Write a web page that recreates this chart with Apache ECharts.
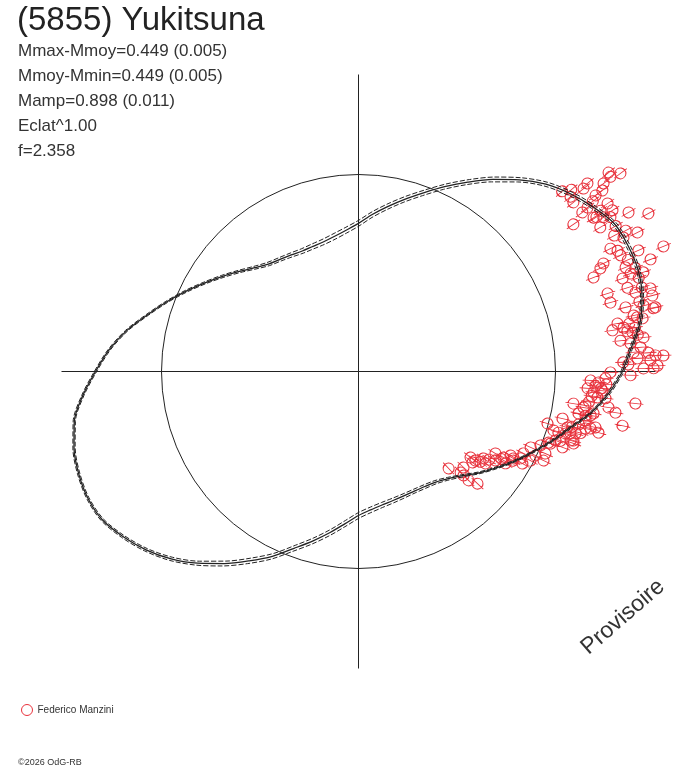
<!DOCTYPE html>
<html>
<head>
<meta charset="utf-8">
<script src="https://cdn.jsdelivr.net/npm/echarts@6/dist/echarts.min.js"></script>
<style>
  html, body { margin: 0; padding: 0; background: #fff; }
  #chart { width: 688px; height: 768px; }
</style>
</head>
<body>
<div id="chart"></div>
<script>
// model lightcurve, relative flux (1 = mean) vs rotation phase in degrees
const curvePhase = [0, 5, 10, 15, 20, 25, 30, 35, 40, 45, 50, 55, 60, 65, 70, 75, 80, 85,
  90, 95, 100, 105, 110, 115, 120, 125, 130, 135, 140, 145, 150, 155, 160, 165, 170, 175,
  180, 185, 190, 195, 200, 205, 210, 215, 220, 225, 230, 235, 240, 245, 250, 255, 260, 265,
  270, 275, 280, 285, 290, 295, 300, 305, 310, 315, 320, 325, 330, 335, 340, 345, 350, 355, 360];
const curveFlux = [1.340, 1.390, 1.452, 1.490, 1.510, 1.510, 1.500, 1.455, 1.404, 1.345, 1.270, 1.190,
  1.110, 1.035, 0.965, 0.905, 0.850, 0.800, 0.752, 0.720, 0.697, 0.682, 0.676, 0.675,
  0.683, 0.695, 0.712, 0.745, 0.790, 0.842, 0.900, 0.965, 1.035, 1.110, 1.195, 1.270,
  1.335, 1.405, 1.465, 1.495, 1.512, 1.517, 1.503, 1.460, 1.408, 1.345, 1.270, 1.190,
  1.110, 1.035, 0.955, 0.890, 0.830, 0.775, 0.731, 0.705, 0.688, 0.678, 0.672, 0.670,
  0.674, 0.685, 0.710, 0.748, 0.800, 0.853, 0.912, 0.972, 1.040, 1.110, 1.200, 1.275, 1.340];
// half width of the model envelope
const curveSpread = [0.008, 0.008, 0.008, 0.008, 0.009, 0.010, 0.010, 0.011, 0.012, 0.013, 0.014, 0.015,
  0.015, 0.015, 0.015, 0.015, 0.015, 0.015, 0.015, 0.015, 0.015, 0.014, 0.013, 0.012,
  0.011, 0.010, 0.010, 0.009, 0.008, 0.008, 0.007, 0.007, 0.006, 0.006, 0.006, 0.006,
  0.006, 0.006, 0.006, 0.006, 0.006, 0.006, 0.007, 0.008, 0.009, 0.011, 0.013, 0.015,
  0.016, 0.016, 0.016, 0.016, 0.016, 0.016, 0.015, 0.014, 0.013, 0.012, 0.011, 0.010,
  0.010, 0.009, 0.008, 0.007, 0.006, 0.006, 0.006, 0.006, 0.006, 0.007, 0.007, 0.008, 0.008];

// observations (Federico Manzini)
const obsPhase = [38.5, 37.1, 37.7, 37.5, 39.4, 39.1, 36.6, 36.6, 39.5, 38.2, 34.0, 35.6, 33.6, 35.4,
  32.4, 30.5, 28.6, 33.2, 32.2, 34.4, 30.8, 27.8, 26.5, 26.8, 22.3, 26.0, 25.0, 23.4, 23.9,
  23.8, 21.0, 23.1, 21.3, 19.8, 21.8, 19.2, 19.4, 17.3, 17.4, 15.9, 15.9, 14.5, 15.3, 13.5,
  13.0, 12.2, 12.1, 11.5, 10.6, 10.5, 9.4, 9.2, 8.1, 6.8, 6.7, 5.9, 4.9, 3.7, 3.1, 3.0, 2.7,
  2.2, 1.1, 0.6, 0.6, 359.8, 359.2, 357.8, 357.4, 358.4, 355.8, 354.9, 355.5, 353.8, 353.8,
  353.4, 351.5, 350.9, 351.8, 349.2, 349.3, 350.9, 347.0, 347.8, 348.4, 346.2, 345.7, 344.6,
  343.2, 343.3, 342.2, 341.1, 339.4, 351.5, 349.9, 349.0, 345.0, 346.7, 343.0, 344.1, 345.9,
  340.7, 342.0, 339.5, 337.9, 336.2, 339.6, 341.5, 334.6, 336.3, 333.6, 331.8, 331.1, 329.3,
  329.1, 327.0, 328.0, 332.6, 334.3, 325.2, 322.7, 322.5, 321.4, 324.1, 317.6, 315.3, 312.9,
  315.3, 316.7, 315.3, 330.7, 330.7,
  9.0, 10.0, 11.0, 8.5, 7.5, 356.5, 356.0, 354.0, 352.5, 357.0, 345.5, 344.5, 343.8, 346.5,
  326.0, 328.5, 323.5, 330.0, 31.5, 33.0, 29.5, 28.0, 36.0, 18.5, 20.5, 16.5, 22.5, 14.0,
  1.5, 4.0, 2.0, 40.5, 41.5];
const obsFlux = [1.622, 1.667, 1.617, 1.568, 1.504, 1.472, 1.542, 1.499, 1.395, 1.388, 1.525, 1.430,
  1.475, 1.394, 1.527, 1.591, 1.676, 1.426, 1.469, 1.322, 1.429, 1.533, 1.582, 1.507, 1.673,
  1.423, 1.451, 1.548, 1.455, 1.359, 1.588, 1.335, 1.455, 1.468, 1.285, 1.531, 1.421, 1.430,
  1.325, 1.462, 1.541, 1.541, 1.326, 1.394, 1.485, 1.542, 1.531, 1.425, 1.467, 1.337, 1.364,
  1.306, 1.405, 1.457, 1.339, 1.388, 1.437, 1.475, 1.510, 1.550, 1.418, 1.483, 1.518, 1.447,
  1.498, 1.279, 1.381, 1.179, 1.220, 1.254, 1.166, 1.198, 1.242, 1.220, 1.261, 1.415, 1.103,
  1.157, 1.282, 1.137, 1.199, 1.321, 1.063, 1.179, 1.368, 1.213, 1.257, 0.995, 1.034, 1.097,
  1.146, 1.084, 1.041, 1.165, 1.212, 1.174, 1.098, 1.236, 1.061, 1.146, 1.188, 1.060, 1.132,
  1.030, 0.997, 0.955, 1.105, 1.151, 0.994, 1.036, 0.935, 0.933, 0.882, 0.856, 0.810, 0.829,
  0.880, 0.983, 1.042, 0.773, 0.746, 0.717, 0.740, 0.796, 0.722, 0.729, 0.672, 0.750, 0.830,
  0.786, 0.954, 0.902,
  1.420, 1.395, 1.440, 1.380, 1.430, 1.205, 1.235, 1.190, 1.180, 1.260, 1.120, 1.170, 1.120, 1.150,
  0.800, 0.850, 0.770, 0.905, 1.500, 1.440, 1.500, 1.470, 1.470, 1.500, 1.500, 1.500, 1.480, 1.470,
  1.370, 1.400, 1.345, 1.420, 1.380];

const infoLines = [
  "Mmax-Mmoy=0.449 (0.005)",
  "Mmoy-Mmin=0.449 (0.005)",
  "Mamp=0.898 (0.011)",
  "Eclat^1.00",
  "f=2.358",
];

const FONT = '"Liberation Sans", Arial, sans-serif';
const ink = "#222";
const red = "#e8323c";
const CENTER = [358.5, 371.5];
const UNIT = 197; // pixels for a relative flux of 1 (the mean circle)

const chart = echarts.init(document.getElementById("chart"));

const curveMain = curveFlux.map((r, i) => [r, curvePhase[i]]);
const curveHigh = curveFlux.map((r, i) => [r + curveSpread[i], curvePhase[i]]);
const curveLow = curveFlux.map((r, i) => [r - curveSpread[i], curvePhase[i]]);
const obsData = obsFlux.map((r, i) => ({ value: [r, obsPhase[i]], symbolRotate: obsPhase[i] }));

const hidden = {
  axisLine: { show: false },
  axisTick: { show: false },
  axisLabel: { show: false },
  splitLine: { show: false },
};

function curveSeries(data, width, dash) {
  return {
    type: "line",
    coordinateSystem: "polar",
    polarIndex: 2,
    data: data,
    smooth: 0.3,
    showSymbol: false,
    clip: false,
    silent: true,
    z: 3,
    lineStyle: { color: ink, width: width, type: dash },
  };
}

chart.setOption({
  animation: false,
  polar: [
    { center: CENTER, radius: 297 },       // crosshair
    { center: CENTER, radius: UNIT },      // mean circle
    { center: CENTER, radius: UNIT * 2 },  // data
  ],
  angleAxis: [
    {
      polarIndex: 0, type: "value", min: 0, max: 360, interval: 90,
      startAngle: 0, clockwise: false,
      axisLine: { show: false }, axisTick: { show: false }, axisLabel: { show: false },
      splitLine: { show: true, lineStyle: { color: ink, width: 1 } },
    },
    {
      polarIndex: 1, type: "value", min: 0, max: 360,
      startAngle: 0, clockwise: false,
      axisLine: { show: true, lineStyle: { color: ink, width: 1 } },
      axisTick: { show: false }, axisLabel: { show: false }, splitLine: { show: false },
    },
    Object.assign({ polarIndex: 2, type: "value", min: 0, max: 360, startAngle: 0, clockwise: false }, hidden),
  ],
  radiusAxis: [
    Object.assign({ polarIndex: 0, type: "value", min: 0, max: 297 / UNIT }, hidden),
    Object.assign({ polarIndex: 1, type: "value", min: 0, max: 1 }, hidden),
    Object.assign({ polarIndex: 2, type: "value", min: 0, max: 2 }, hidden),
  ],
  legend: {
    left: 16,
    top: 699,
    itemWidth: 11,
    itemHeight: 11,
    selectedMode: false,
    data: [{
      name: "Federico Manzini",
      icon: "circle",
      itemStyle: { color: "rgba(0,0,0,0)", borderColor: red, borderWidth: 1 },
    }],
    textStyle: { fontFamily: FONT, fontSize: 10, color: "#333" },
  },
  graphic: [
    {
      type: "text", x: 17, y: 4,
      style: { text: "(5855) Yukitsuna", font: "33px " + FONT, fill: ink },
    },
    {
      type: "text", x: 18, y: 39,
      style: { text: infoLines.join("\n"), font: "17px " + FONT, fill: "#333", lineHeight: 25 },
    },
    {
      type: "text", x: 623, y: 617, rotation: 41 * Math.PI / 180,
      style: {
        text: "Provisoire", font: "23px " + FONT, fill: "#333",
        align: "center", verticalAlign: "middle", textAlign: "center", textVerticalAlign: "middle",
      },
    },
    {
      type: "text", x: 18, y: 758,
      style: { text: "\u00a92026 OdG-RB", font: "9px " + FONT, fill: "#333" },
    },
  ],
  series: [
    {
      name: "Federico Manzini",
      type: "scatter",
      coordinateSystem: "polar",
      polarIndex: 2,
      data: obsData,
      symbol: "path://M-8,0L8,0M5.5,0A5.5,5.5,0,1,1,-5.5,0A5.5,5.5,0,1,1,5.5,0",
      symbolSize: [16, 11],
      clip: false,
      z: 2,
      itemStyle: { color: "rgba(0,0,0,0)", borderColor: red, borderWidth: 1, opacity: 1 },
    },
    curveSeries(curveHigh, 1, [5, 2]),
    curveSeries(curveLow, 1, [5, 2]),
    curveSeries(curveMain, 1.3, "solid"),
  ],
});
</script>
</body>
</html>
